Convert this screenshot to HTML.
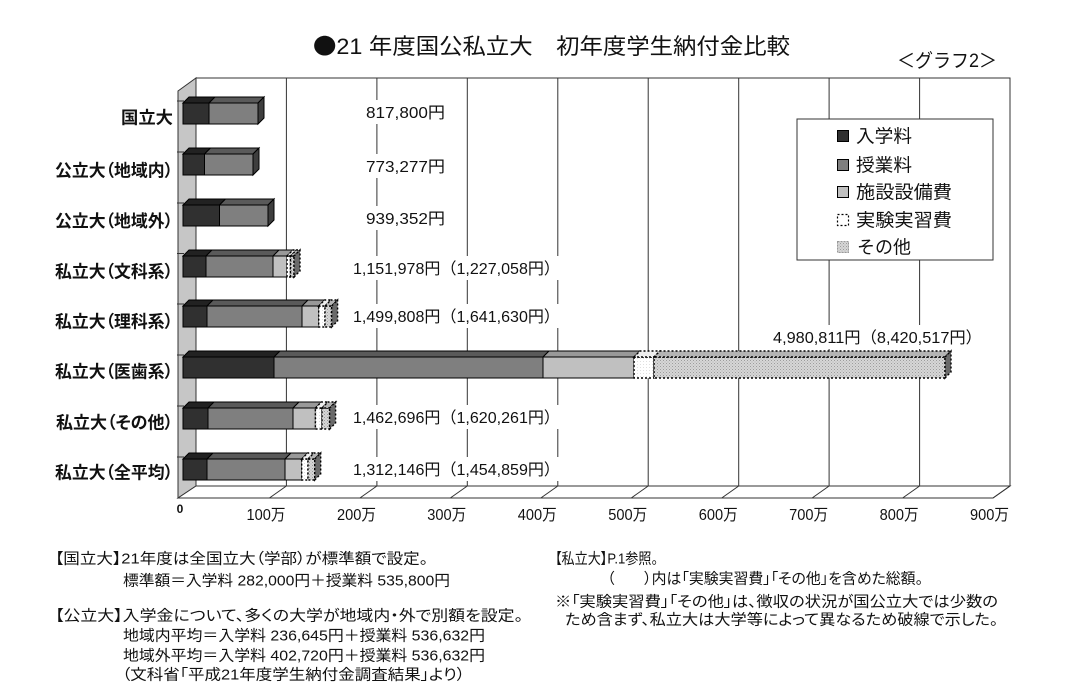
<!DOCTYPE html>
<html lang="ja">
<head>
<meta charset="utf-8">
<style>
  html,body{margin:0;padding:0;background:#fff;}
  body{width:1080px;height:693px;overflow:hidden;}
  svg{display:block;}
  text{font-family:"Liberation Sans","Noto Sans CJK JP",sans-serif;fill:#111;}
  .cat{font-size:17px;font-weight:bold;font-feature-settings:"palt";}
  .val{font-size:16px;}
  .ax{font-size:16px;}
  .leg{font-size:18px;}
  .fn{font-size:15px;font-feature-settings:"palt";}
  .e{stroke:#000;stroke-width:1;}
  .dot{stroke:#000;stroke-width:1.4;stroke-dasharray:2 2;}
  .grid{stroke:#333;stroke-width:1;}
  .cjk{font-family:"Noto Sans CJK JP",sans-serif;}
</style>
</head>
<body>
<svg width="1080" height="693" viewBox="0 0 1080 693" xmlns="http://www.w3.org/2000/svg">
  <defs>
    <pattern id="st" width="3" height="3" patternUnits="userSpaceOnUse">
      <rect width="3" height="3" fill="#d6d6d6"/>
      <rect x="0" y="0" width="1" height="1" fill="#9c9c9c"/>
      <rect x="1.5" y="1.5" width="1" height="1" fill="#b0b0b0"/>
    </pattern>
    <pattern id="wt" width="3" height="3" patternUnits="userSpaceOnUse">
      <rect width="3" height="3" fill="#ffffff"/>
      <rect x="1" y="1" width="1" height="1" fill="#e0e0e0"/>
    </pattern>
  </defs>

  <rect width="1080" height="693" fill="#fff"/>

  <!-- Title -->
  <text x="313" y="54" font-size="22" textLength="477" lengthAdjust="spacingAndGlyphs"><tspan class="cjk">●</tspan>21 年度国公私立大　初年度学生納付金比較</text>
  <text x="897" y="67" font-size="19" textLength="100" lengthAdjust="spacingAndGlyphs">＜グラフ2＞</text>

  <!-- Back wall -->
  <rect x="196" y="78" width="814" height="408" fill="#fff" stroke="#333" stroke-width="1"/>
  <!-- Gridlines -->
  <g class="grid">
    <line x1="286.4" y1="78" x2="286.4" y2="486"/>
    <line x1="376.9" y1="78" x2="376.9" y2="486"/>
    <line x1="467.3" y1="78" x2="467.3" y2="486"/>
    <line x1="557.8" y1="78" x2="557.8" y2="486"/>
    <line x1="648.2" y1="78" x2="648.2" y2="486"/>
    <line x1="738.7" y1="78" x2="738.7" y2="486"/>
    <line x1="829.1" y1="78" x2="829.1" y2="486"/>
    <line x1="919.6" y1="78" x2="919.6" y2="486"/>
  </g>

  <!-- Left wall -->
  <polygon points="178,91 196,78 196,486 178,498" fill="#c6c6c6" stroke="#333" stroke-width="1"/>
  <g stroke="#333" stroke-width="1">
    <line x1="177" y1="101" x2="184" y2="101"/>
    <line x1="177" y1="152" x2="184" y2="152"/>
    <line x1="177" y1="203" x2="184" y2="203"/>
    <line x1="177" y1="253.5" x2="184" y2="253.5"/>
    <line x1="177" y1="304" x2="184" y2="304"/>
    <line x1="177" y1="355" x2="184" y2="355"/>
    <line x1="177" y1="406" x2="184" y2="406"/>
    <line x1="177" y1="457" x2="184" y2="457"/>
  </g>

  <!-- Floor -->
  <polygon points="178,498 196,486 1010,486 993,498" fill="#fff" stroke="#333" stroke-width="1"/>
  <g class="grid">
    <line x1="286.4" y1="486" x2="269.4" y2="498"/>
    <line x1="376.9" y1="486" x2="359.9" y2="498"/>
    <line x1="467.3" y1="486" x2="450.3" y2="498"/>
    <line x1="557.8" y1="486" x2="540.8" y2="498"/>
    <line x1="648.2" y1="486" x2="631.2" y2="498"/>
    <line x1="738.7" y1="486" x2="721.7" y2="498"/>
    <line x1="829.1" y1="486" x2="812.1" y2="498"/>
    <line x1="919.6" y1="486" x2="902.6" y2="498"/>
    <line x1="1010" y1="486" x2="993" y2="498"/>
  </g>

  <!-- Axis labels -->
  <text x="180" y="513" font-size="12" font-weight="bold" text-anchor="middle">0</text>
  <g class="ax">
    <text x="246.5" y="520" textLength="39" lengthAdjust="spacingAndGlyphs">100万</text>
    <text x="337" y="520" textLength="39" lengthAdjust="spacingAndGlyphs">200万</text>
    <text x="427.3" y="520" textLength="39" lengthAdjust="spacingAndGlyphs">300万</text>
    <text x="517.8" y="520" textLength="39" lengthAdjust="spacingAndGlyphs">400万</text>
    <text x="608.2" y="520" textLength="39" lengthAdjust="spacingAndGlyphs">500万</text>
    <text x="698.7" y="520" textLength="39" lengthAdjust="spacingAndGlyphs">600万</text>
    <text x="789.1" y="520" textLength="39" lengthAdjust="spacingAndGlyphs">700万</text>
    <text x="879.6" y="520" textLength="39" lengthAdjust="spacingAndGlyphs">800万</text>
    <text x="970" y="520" textLength="39" lengthAdjust="spacingAndGlyphs">900万</text>
  </g>

  <!-- Category labels -->
  <g class="cat">
    <text x="121" y="123.5" textLength="52" lengthAdjust="spacingAndGlyphs">国立大</text>
    <text x="55" y="176.5" textLength="118" lengthAdjust="spacingAndGlyphs">公立大（地域内）</text>
    <text x="55" y="227" textLength="118" lengthAdjust="spacingAndGlyphs">公立大（地域外）</text>
    <text x="55" y="277.5" textLength="118" lengthAdjust="spacingAndGlyphs">私立大（文科系）</text>
    <text x="55" y="327.5" textLength="118" lengthAdjust="spacingAndGlyphs">私立大（理科系）</text>
    <text x="55" y="377.5" textLength="118" lengthAdjust="spacingAndGlyphs">私立大（医歯系）</text>
    <text x="56" y="428.5" textLength="117" lengthAdjust="spacingAndGlyphs">私立大（その他）</text>
    <text x="55" y="478.5" textLength="118" lengthAdjust="spacingAndGlyphs">私立大（全平均）</text>
  </g>

  <!-- Value label backgrounds -->
  <g fill="#fff">
    <rect x="362" y="100" width="87" height="24"/>
    <rect x="362" y="154" width="87" height="24"/>
    <rect x="362" y="206" width="87" height="24"/>
    <rect x="349" y="256" width="215" height="24"/>
    <rect x="349" y="304" width="215" height="24"/>
    <rect x="769" y="325" width="217" height="24"/>
    <rect x="349" y="405" width="215" height="24"/>
    <rect x="349" y="457" width="215" height="24"/>
  </g>
  <g class="val">
    <text x="366" y="118" textLength="79" lengthAdjust="spacingAndGlyphs">817,800円</text>
    <text x="366" y="172" textLength="79" lengthAdjust="spacingAndGlyphs">773,277円</text>
    <text x="366" y="224" textLength="79" lengthAdjust="spacingAndGlyphs">939,352円</text>
    <text x="353" y="274" textLength="207" lengthAdjust="spacingAndGlyphs">1,151,978円（1,227,058円）</text>
    <text x="353" y="322" textLength="207" lengthAdjust="spacingAndGlyphs">1,499,808円（1,641,630円）</text>
    <text x="773" y="343" textLength="209" lengthAdjust="spacingAndGlyphs">4,980,811円（8,420,517円）</text>
    <text x="353" y="423" textLength="207" lengthAdjust="spacingAndGlyphs">1,462,696円（1,620,261円）</text>
    <text x="353" y="475" textLength="207" lengthAdjust="spacingAndGlyphs">1,312,146円（1,454,859円）</text>
  </g>

  <!-- Bars -->
  <!-- Row 0 国立大 -->
  <g class="e">
    <rect x="183" y="103" width="26" height="21" fill="#303030"/>
    <rect x="209" y="103" width="49" height="21" fill="#7f7f7f"/>
    <polygon points="183,103 189,97 215,97 209,103" fill="#222"/>
    <polygon points="209,103 215,97 264,97 258,103" fill="#5a5a5a"/>
    <polygon points="258,103 264,97 264,118 258,124" fill="#3e3e3e"/>
  </g>
  <!-- Row 1 地域内 -->
  <g class="e">
    <rect x="183" y="154" width="21.5" height="21" fill="#303030"/>
    <rect x="204.5" y="154" width="48.5" height="21" fill="#7f7f7f"/>
    <polygon points="183,154 189,148 210.5,148 204.5,154" fill="#222"/>
    <polygon points="204.5,154 210.5,148 259,148 253,154" fill="#5a5a5a"/>
    <polygon points="253,154 259,148 259,169 253,175" fill="#3e3e3e"/>
  </g>
  <!-- Row 2 地域外 -->
  <g class="e">
    <rect x="183" y="205" width="36.5" height="21" fill="#303030"/>
    <rect x="219.5" y="205" width="48.5" height="21" fill="#7f7f7f"/>
    <polygon points="183,205 189,199 225.5,199 219.5,205" fill="#222"/>
    <polygon points="219.5,205 225.5,199 274,199 268,205" fill="#5a5a5a"/>
    <polygon points="268,205 274,199 274,220 268,226" fill="#3e3e3e"/>
  </g>
  <!-- Row 3 文科系 -->
  <g class="e">
    <rect x="183" y="256" width="23" height="21" fill="#303030"/>
    <rect x="206" y="256" width="67" height="21" fill="#7f7f7f"/>
    <rect x="273" y="256" width="14" height="21" fill="#c0c0c0"/>
    <polygon points="183,256 189,250 212,250 206,256" fill="#222"/>
    <polygon points="206,256 212,250 279,250 273,256" fill="#5a5a5a"/>
    <polygon points="273,256 279,250 293,250 287,256" fill="#999"/>
  </g>
  <g class="dot">
    <rect x="287" y="256" width="3.5" height="21" fill="url(#wt)"/>
    <rect x="290.5" y="256" width="3.5" height="21" fill="url(#st)"/>
    <polygon points="287,256 293,250 296.5,250 290.5,256" fill="#eee"/>
    <polygon points="290.5,256 296.5,250 300,250 294,256" fill="#b4b4b4"/>
    <polygon points="294,256 300,250 300,271 294,277" fill="#6a6a6a"/>
  </g>
  <!-- Row 4 理科系 -->
  <g class="e">
    <rect x="183" y="306" width="24" height="21" fill="#303030"/>
    <rect x="207" y="306" width="95" height="21" fill="#7f7f7f"/>
    <rect x="302" y="306" width="16.7" height="21" fill="#c0c0c0"/>
    <polygon points="183,306 189,300 213,300 207,306" fill="#222"/>
    <polygon points="207,306 213,300 308,300 302,306" fill="#5a5a5a"/>
    <polygon points="302,306 308,300 324.7,300 318.7,306" fill="#999"/>
  </g>
  <g class="dot">
    <rect x="318.7" y="306" width="6.3" height="21" fill="url(#wt)"/>
    <rect x="325" y="306" width="6.6" height="21" fill="url(#st)"/>
    <polygon points="318.7,306 324.7,300 331,300 325,306" fill="#eee"/>
    <polygon points="325,306 331,300 337.6,300 331.6,306" fill="#b4b4b4"/>
    <polygon points="331.6,306 337.6,300 337.6,321 331.6,327" fill="#6a6a6a"/>
  </g>
  <!-- Row 5 医歯系 -->
  <g class="e">
    <rect x="183" y="357" width="91" height="21" fill="#303030"/>
    <rect x="274" y="357" width="269" height="21" fill="#7f7f7f"/>
    <rect x="543" y="357" width="91" height="21" fill="#c0c0c0"/>
    <polygon points="183,357 189,351 280,351 274,357" fill="#222"/>
    <polygon points="274,357 280,351 549,351 543,357" fill="#5a5a5a"/>
    <polygon points="543,357 549,351 640,351 634,357" fill="#999"/>
  </g>
  <g class="dot">
    <rect x="634" y="357" width="20" height="21" fill="url(#wt)"/>
    <rect x="654" y="357" width="291" height="21" fill="url(#st)"/>
    <polygon points="634,357 640,351 660,351 654,357" fill="#eee"/>
    <polygon points="654,357 660,351 951,351 945,357" fill="#b4b4b4"/>
    <polygon points="945,357 951,351 951,372 945,378" fill="#6a6a6a"/>
  </g>
  <!-- Row 6 その他 -->
  <g class="e">
    <rect x="183" y="408" width="25" height="21" fill="#303030"/>
    <rect x="208" y="408" width="85" height="21" fill="#7f7f7f"/>
    <rect x="293" y="408" width="22.4" height="21" fill="#c0c0c0"/>
    <polygon points="183,408 189,402 214,402 208,408" fill="#222"/>
    <polygon points="208,408 214,402 299,402 293,408" fill="#5a5a5a"/>
    <polygon points="293,408 299,402 321.4,402 315.4,408" fill="#999"/>
  </g>
  <g class="dot">
    <rect x="315.4" y="408" width="6.6" height="21" fill="url(#wt)"/>
    <rect x="322" y="408" width="7.6" height="21" fill="url(#st)"/>
    <polygon points="315.4,408 321.4,402 328,402 322,408" fill="#eee"/>
    <polygon points="322,408 328,402 335.6,402 329.6,408" fill="#b4b4b4"/>
    <polygon points="329.6,408 335.6,402 335.6,423 329.6,429" fill="#6a6a6a"/>
  </g>
  <!-- Row 7 全平均 -->
  <g class="e">
    <rect x="183" y="459" width="24" height="21" fill="#303030"/>
    <rect x="207" y="459" width="78" height="21" fill="#7f7f7f"/>
    <rect x="285" y="459" width="16.7" height="21" fill="#c0c0c0"/>
    <polygon points="183,459 189,453 213,453 207,459" fill="#222"/>
    <polygon points="207,459 213,453 291,453 285,459" fill="#5a5a5a"/>
    <polygon points="285,459 291,453 307.7,453 301.7,459" fill="#999"/>
  </g>
  <g class="dot">
    <rect x="301.7" y="459" width="6.3" height="21" fill="url(#wt)"/>
    <rect x="308" y="459" width="6.7" height="21" fill="url(#st)"/>
    <polygon points="301.7,459 307.7,453 314,453 308,459" fill="#eee"/>
    <polygon points="308,459 314,453 320.7,453 314.7,459" fill="#b4b4b4"/>
    <polygon points="314.7,459 320.7,453 320.7,474 314.7,480" fill="#6a6a6a"/>
  </g>

  <!-- Legend -->
  <rect x="797" y="119" width="196" height="141" fill="#fff" stroke="#333" stroke-width="1"/>
  <rect x="837.5" y="130.5" width="11" height="11" fill="#303030" stroke="#000" stroke-width="1"/>
  <rect x="837.5" y="159.5" width="11" height="11" fill="#7f7f7f" stroke="#000" stroke-width="1"/>
  <rect x="837.5" y="186.5" width="11" height="11" fill="#c0c0c0" stroke="#000" stroke-width="1"/>
  <rect x="837.5" y="214.5" width="11" height="11" fill="#fff" stroke="#000" stroke-width="1.2" stroke-dasharray="2 2"/>
  <rect x="837.5" y="241.5" width="11" height="11" fill="url(#st)" stroke="#999" stroke-width="1" stroke-dasharray="2 1"/>
  <g class="leg">
    <text x="856" y="142.5" textLength="56" lengthAdjust="spacingAndGlyphs">入学料</text>
    <text x="856" y="171.5" textLength="56" lengthAdjust="spacingAndGlyphs">授業料</text>
    <text x="856" y="198.5" textLength="96" lengthAdjust="spacingAndGlyphs">施設設備費</text>
    <text x="856" y="226.5" textLength="96" lengthAdjust="spacingAndGlyphs">実験実習費</text>
    <text x="857" y="253.5" textLength="54" lengthAdjust="spacingAndGlyphs">その他</text>
  </g>

  <!-- Footnotes left -->
  <g class="fn">
    <text x="55" y="563.5" textLength="373" lengthAdjust="spacingAndGlyphs">【国立大】21年度は全国立大（学部）が標準額で設定。</text>
    <text x="123" y="585.5" textLength="327" lengthAdjust="spacingAndGlyphs">標準額＝入学料 282,000円＋授業料 535,800円</text>
    <text x="55" y="620.5" textLength="468" lengthAdjust="spacingAndGlyphs">【公立大】入学金について、多くの大学が地域内・外で別額を設定。</text>
    <text x="123" y="640.5" textLength="362" lengthAdjust="spacingAndGlyphs">地域内平均＝入学料 236,645円＋授業料 536,632円</text>
    <text x="123" y="660.5" textLength="362" lengthAdjust="spacingAndGlyphs">地域外平均＝入学料 402,720円＋授業料 536,632円</text>
    <text x="122" y="679.5" textLength="343" lengthAdjust="spacingAndGlyphs">（文科省「平成21年度学生納付金調査結果」より）</text>
  </g>

  <!-- Footnotes right -->
  <g class="fn">
    <text x="555" y="563.5" textLength="103" lengthAdjust="spacingAndGlyphs">【私立大】P.1参照。</text>
    <text x="607" y="583.5" textLength="316" lengthAdjust="spacingAndGlyphs">（　　）内は「実験実習費」「その他」を含めた総額。</text>
    <text x="555" y="606.5" textLength="443" lengthAdjust="spacingAndGlyphs">※「実験実習費」「その他」は、徴収の状況が国公立大では少数の</text>
    <text x="565" y="624.5" textLength="433" lengthAdjust="spacingAndGlyphs">ため含まず、私立大は大学等によって異なるため破線で示した。</text>
  </g>
</svg>
</body>
</html>
